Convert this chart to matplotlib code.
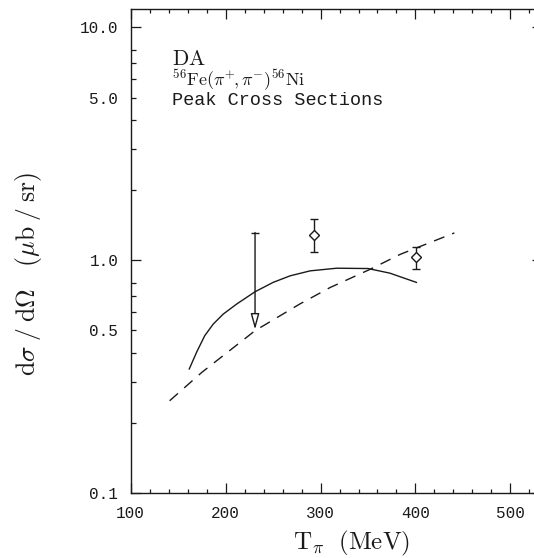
#!/usr/bin/env python3

import numpy as np
import matplotlib

matplotlib.use("Agg")
import matplotlib.pyplot as plt
from matplotlib.patches import ArrowStyle
from matplotlib.ticker import FixedLocator, FixedFormatter, FuncFormatter, MultipleLocator

plt.rcParams["mathtext.fontset"] = "cm"

# theory curves
solid_x = [161.7, 169.5, 178, 187, 197.5, 211.6, 231, 250, 268, 289, 317, 350, 373, 401]
solid_y = [0.341, 0.403, 0.474, 0.532, 0.587, 0.648, 0.732, 0.803, 0.857, 0.900, 0.924,
           0.921, 0.880, 0.803]

dashed_x = [141, 175, 231, 278, 310, 352, 384, 441]
dashed_y = [0.249, 0.330, 0.498, 0.648, 0.763, 0.913, 1.06, 1.31]

# measured points
data_x = [293, 401]
data_y = [1.287, 1.03]
data_lo = [1.08, 0.919]
data_hi = [1.50, 1.135]

# upper limit
limit_x = 231
limit_top = 1.315
limit_tip = 0.504

y_major = [0.1, 1.0, 10.0]
y_major_labels = ["0.1", "1.0", "10.0"]
y_minor_labels = {0.5: "0.5", 5.0: "5.0"}
x_ticks = [100, 200, 300, 400, 500]

W, H = 534, 558
fig = plt.figure(figsize=(W / 100, H / 100), dpi=100)
ax = fig.add_axes([130.7 / W, 65 / H, 411 / W, 484 / H])

ink = "#1a1a1a"
ax.plot(solid_x, solid_y, color=ink, lw=1.0)
ax.plot(dashed_x, dashed_y, color=ink, lw=1.0, dashes=(8, 6))

yerr = [np.array(data_y) - np.array(data_lo), np.array(data_hi) - np.array(data_y)]
ax.errorbar(data_x, data_y, yerr=yerr, fmt="D", ms=5.5, mfc="white", mec=ink,
            mew=1.0, ecolor=ink, elinewidth=1.0, capsize=3, capthick=1.0)

ax.annotate("", xy=(limit_x, limit_tip), xytext=(limit_x, limit_top),
            arrowprops=dict(arrowstyle=ArrowStyle("-|>", head_length=0.95, head_width=0.26),
                            mutation_scale=10, fc="white", ec=ink, lw=1.0,
                            shrinkA=0, shrinkB=0))
ax.plot([limit_x], [limit_top], marker="_", ms=6, mew=1.0, color=ink)

ax.set_yscale("log")
ax.set_xlim(100, 533)
ax.set_ylim(0.1, 12)

mono = "Liberation Mono"
ax.yaxis.set_major_locator(FixedLocator(y_major))
ax.yaxis.set_major_formatter(FixedFormatter(y_major_labels))
minor = [m * d for d in (0.1, 1.0) for m in (2, 3, 4, 5, 6, 7, 8)]
ax.yaxis.set_minor_locator(FixedLocator(minor))


def minor_label(v, pos):
    for k, s in y_minor_labels.items():
        if abs(v - k) < 1e-6:
            return s
    return ""


ax.yaxis.set_minor_formatter(FuncFormatter(minor_label))
ax.xaxis.set_major_locator(FixedLocator(x_ticks))
ax.xaxis.set_minor_locator(MultipleLocator(20))

ax.tick_params(which="both", direction="in", top=True, right=True, color=ink,
               pad=9, labelsize=11.5, labelcolor=ink)
ax.tick_params(which="major", length=7, width=0.9)
ax.tick_params(which="minor", length=3.5, width=0.9)
ax.tick_params(axis="x", which="minor", length=2.8)
for lab in (ax.get_xticklabels() + ax.get_yticklabels()
            + ax.get_yticklabels(minor=True)):
    lab.set_family(mono)
for s in ax.spines.values():
    s.set_color(ink)
    s.set_linewidth(1.0)

ax.set_xlabel(r"$\mathrm{T}_{\pi}\ \ (\mathrm{MeV})$", fontsize=18, color=ink)
ax.xaxis.set_label_coords(0.538, -0.075)
ax.set_ylabel(r"$\mathrm{d}\sigma\;/\;\mathrm{d}\Omega\ \ \ (\mu\mathrm{b}\;/\;\mathrm{sr})$",
              fontsize=18.5, color=ink)
ax.yaxis.set_label_coords(-0.212, 0.453)

ax.text(0.10, 0.884, r"$\mathrm{DA}$", transform=ax.transAxes, fontsize=15.5,
        color=ink, va="baseline", ha="left")
ax.text(0.10, 0.842, r"$^{56}\mathrm{Fe}(\pi^{+}\!,\pi^{-})^{56}\mathrm{Ni}$",
        transform=ax.transAxes, fontsize=13, color=ink, va="baseline", ha="left")
ax.text(0.10, 0.801, "Peak Cross Sections", transform=ax.transAxes, fontsize=13.3,
        family=mono, color=ink, va="baseline", ha="left")

fig.savefig("out.png", dpi=100)
